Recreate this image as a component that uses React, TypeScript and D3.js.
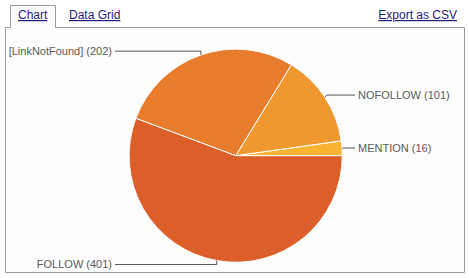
import React from "react";
import * as d3 from "d3";

const categories = ["MENTION", "NOFOLLOW", "[LinkNotFound]", "FOLLOW"];
const values = [16, 101, 202, 401];
const colors = ["#F8B430", "#EE982F", "#E67C2C", "#DC5F29"];
const tabs = ["Chart", "Data Grid"];
const exportLabel = "Export as CSV";

const W = 469;
const H = 278;
const cx = 235.7;
const cy = 155.7;
const r = 106.6;

export default function App() {
  const total = d3.sum(values);
  // angles measured counter-clockwise from 3 o'clock
  const scale = d3.scaleLinear().domain([0, total]).range([0, 2 * Math.PI]);
  const cum = d3.cumsum(values);
  const slices = values.map((v, i) => {
    const a0 = scale(i === 0 ? 0 : cum[i - 1]);
    const a1 = scale(cum[i]);
    return { v, i, a0, a1 };
  });
  // convert to d3.arc angles (0 at 12 o'clock, clockwise)
  const arc = d3.arc<any>().innerRadius(0).outerRadius(r);
  const font = "Liberation Sans, Arial, sans-serif";

  return (
    <svg width={W} height={H} style={{ position: "absolute", left: 0, top: 0, background: "#fff" }}>
      {/* frame */}
      <path
        d="M10.5,27.5 L10.5,5.5 L55.5,5.5 L55.5,27.5 L464.5,27.5 L464.5,272.5 L5.5,272.5 L5.5,27.5 Z"
        fill="#fdfdfd"
        stroke="#9a9a9a"
        strokeWidth={1}
      />
      <text x={18} y={19} fontFamily={font} fontSize={12} fill="#1c1c78" textDecoration="underline">
        {tabs[0]}
      </text>
      <text x={69} y={19} fontFamily={font} fontSize={12} fill="#1c1c78" textDecoration="underline">
        {tabs[1]}
      </text>
      <text x={457} y={19} textAnchor="end" fontFamily={font} fontSize={12} fill="#1c1c78" textDecoration="underline">
        {exportLabel}
      </text>
      <g transform={`translate(${cx},${cy})`}>
        {slices.map((s) => (
          <path
            key={s.i}
            d={arc({ startAngle: Math.PI / 2 - s.a1, endAngle: Math.PI / 2 - s.a0 }) as string}
            fill={colors[s.i]}
            stroke="#ffffff"
            strokeWidth={1}
          />
        ))}
      </g>
      {slices.map((s) => {
        const mid = (s.a0 + s.a1) / 2;
        const px = cx + r * Math.cos(mid);
        const py = cy - r * Math.sin(mid);
        const ly = cy - (r + 4) * Math.sin(mid);
        const right = Math.cos(mid) > 0;
        const tx = right ? 358 : 112;
        const lineEnd = right ? 355 : 115;
        const elbowX = right ? px + 2 : px;
        return (
          <g key={"l" + s.i}>
            <polyline
              points={`${px},${py} ${elbowX},${ly} ${lineEnd},${ly}`}
              fill="none"
              stroke="#555"
              strokeWidth={1}
            />
            <text
              x={tx}
              y={ly}
              dy="0.35em"
              textAnchor={right ? "start" : "end"}
              fontFamily={font}
              fontSize={11}
              fill="#5a5a5a"
            >
              {`${categories[s.i]} (${s.v})`}
            </text>
          </g>
        );
      })}
    </svg>
  );
}
